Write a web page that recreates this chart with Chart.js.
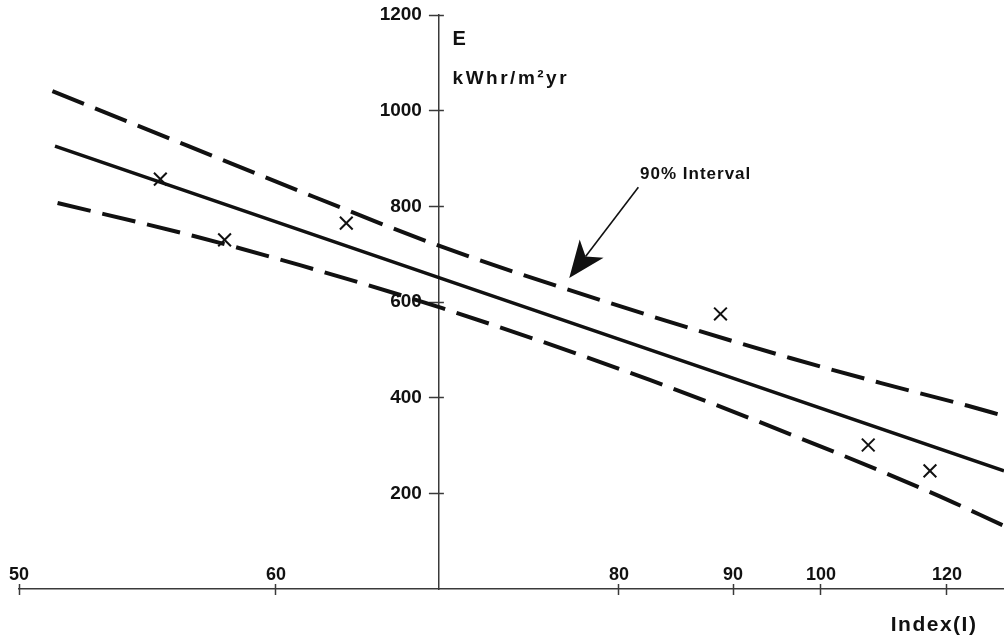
<!DOCTYPE html>
<html>
<head>
<meta charset="utf-8">
<script src="https://cdn.jsdelivr.net/npm/chart.js@4.4.1/dist/chart.umd.min.js"></script>
<style>
html,body{margin:0;padding:0;background:#fff;}
#wrap{width:1004px;height:643px;position:relative;}
canvas{display:block;}
</style>
</head>
<body>
<div id="wrap"><canvas id="c" width="1004" height="643"></canvas></div>
<script>
// ---- data ----
const xTickValues = [50, 60, 80, 90, 100, 120];
const yTickValues = [200, 400, 600, 800, 1000, 1200];

const observedIndex = [55.5, 58.0, 64.1, 88.9, 107.5, 117.3];
const observedE     = [857, 730, 765, 575, 301, 247];

const fitIndex = [51.4, 69.5, 129];
const fitE     = [926, 651, 247];

const upperIndex = [51.3, 56.5, 62.2, 69.7, 83.3, 96.5, 109.4, 123.3, 129];
const upperE     = [1041, 928, 820, 715, 567, 483, 431, 383, 362];

const lowerIndex = [51.5, 56.8, 61.4, 69.7, 82.7, 97.8, 117.6, 129];
const lowerE     = [807, 738, 677, 587, 437, 314, 201, 132];

const yAxisAtIndex = 69.5;

// ---- custom x scale: the reference axis is not evenly spaced ----
// piecewise-linear mapping between the labelled ticks (axis layout)
const AXIS_KNOT_VALUES = [50, 60, 80, 90, 100, 120, 129];
const AXIS_KNOT_FRACS  = [0, 0.2609, 0.6091, 0.7249, 0.8142, 0.9421, 1];

class PiecewiseScale extends Chart.LinearScale {
  static id = 'piecewise';
  static defaults = Chart.LinearScale.defaults;
  _dec(v) {
    const vs = AXIS_KNOT_VALUES, fs = AXIS_KNOT_FRACS;
    let i = 0;
    if (v >= vs[vs.length - 1]) i = vs.length - 2;
    else if (v > vs[0]) { while (v > vs[i + 1]) i++; }
    const t = (v - vs[i]) / (vs[i + 1] - vs[i]);
    return fs[i] + t * (fs[i + 1] - fs[i]);
  }
  getPixelForValue(value) {
    if (value === null || value === undefined || isNaN(value)) return NaN;
    return this.getPixelForDecimal(this._dec(value));
  }
  getValueForPixel(pixel) {
    const d = this.getDecimalForPixel(pixel);
    const vs = AXIS_KNOT_VALUES, fs = AXIS_KNOT_FRACS;
    let i = 0;
    if (d >= fs[fs.length - 1]) i = fs.length - 2;
    else if (d > fs[0]) { while (d > fs[i + 1]) i++; }
    const t = (d - fs[i]) / (fs[i + 1] - fs[i]);
    return vs[i] + t * (vs[i + 1] - vs[i]);
  }
  _computeGridLineItems(ca) {
    const items = super._computeGridLineItems(ca);
    const b = ca.bottom;
    items.forEach(it => { it.ty1 = b - 5; it.ty2 = b + 6; });
    return items;
  }
}

// y scale drawn through the middle of the plot: labels left of the axis, ticks crossing it
class CrossingYScale extends Chart.LinearScale {
  static id = 'crossingLinear';
  static defaults = Chart.LinearScale.defaults;
  _axisPixel() {
    return this.chart.scales.x.getPixelForValue(yAxisAtIndex);
  }
  _computeLabelItems(ca) {
    const items = super._computeLabelItems(ca);
    const ax = this._axisPixel();
    const shift = 10 + this.options.ticks.padding;
    items.forEach(it => { it.options.translation[0] = ax - shift; it.options.textAlign = 'right'; });
    return items;
  }
  _computeGridLineItems(ca) {
    const items = super._computeGridLineItems(ca);
    const ax = this._axisPixel();
    items.forEach(it => { it.tx1 = ax - 10; it.tx2 = ax + 5; });
    return items;
  }
}
Chart.register(PiecewiseScale, CrossingYScale);

const pts = (xs, ys) => xs.map((x, i) => ({x: x, y: ys[i]}));
const INK = '#111111';
const AXIS = '#3a3a3a';
const FONT = '"Liberation Sans", Arial, sans-serif';

const annotations = {
  id: 'annotations',
  afterDatasetsDraw(chart) {
    const {ctx} = chart;
    const xs = chart.scales.x, ys = chart.scales.y;
    ctx.save();
    ctx.fillStyle = INK;
    ctx.strokeStyle = INK;
    ctx.textBaseline = 'middle';
    ctx.textAlign = 'left';

    // y-axis title
    ctx.font = 'bold 20px ' + FONT;
    ctx.fillText('E', xs.getPixelForValue(70.3), ys.getPixelForValue(1148));
    try { ctx.letterSpacing = '2.5px'; } catch (e) {}
    ctx.font = 'bold 19px ' + FONT;
    ctx.fillText('kWhr/m²yr', xs.getPixelForValue(70.3), ys.getPixelForValue(1066));

    // 90% interval label
    try { ctx.letterSpacing = '1px'; } catch (e) {}
    ctx.font = 'bold 17px ' + FONT;
    ctx.fillText('90% Interval', xs.getPixelForValue(81.85), ys.getPixelForValue(866));

    // x-axis title
    try { ctx.letterSpacing = '1.5px'; } catch (e) {}
    ctx.font = 'bold 21px ' + FONT;
    ctx.textAlign = 'right';
    ctx.fillText('Index(I)', xs.getPixelForValue(124.8), ys.getPixelForValue(0) + 36);
    try { ctx.letterSpacing = '0px'; } catch (e) {}

    // arrow
    const fx = xs.getPixelForValue(81.7), fy = ys.getPixelForValue(840);
    const tx = xs.getPixelForValue(77.1), ty = ys.getPixelForValue(650);
    const dx = tx - fx, dy = ty - fy, len = Math.hypot(dx, dy);
    const ux = dx / len, uy = dy / len, px = -uy, py = ux;
    const hl = 37, hw = 15, notch = 27;
    ctx.lineWidth = 1.6;
    ctx.beginPath();
    ctx.moveTo(fx, fy);
    ctx.lineTo(tx - ux * notch, ty - uy * notch);
    ctx.stroke();
    ctx.beginPath();
    ctx.moveTo(tx, ty);
    ctx.lineTo(tx - ux * hl + px * hw, ty - uy * hl + py * hw);
    ctx.lineTo(tx - ux * notch, ty - uy * notch);
    ctx.lineTo(tx - ux * hl - px * hw, ty - uy * hl - py * hw);
    ctx.closePath();
    ctx.fill();
    ctx.restore();
  }
};

new Chart(document.getElementById('c'), {
  type: 'scatter',
  data: {
    datasets: [
      {
        label: 'Regression',
        data: pts(fitIndex, fitE),
        showLine: true,
        borderColor: INK,
        borderWidth: 3.5,
        pointRadius: 0,
        fill: false
      },
      {
        label: 'Upper 90%',
        data: pts(upperIndex, upperE),
        showLine: true,
        borderColor: INK,
        borderWidth: 4,
        borderDash: [34, 12],
        cubicInterpolationMode: 'monotone',
        pointRadius: 0,
        fill: false
      },
      {
        label: 'Lower 90%',
        data: pts(lowerIndex, lowerE),
        showLine: true,
        borderColor: INK,
        borderWidth: 4,
        borderDash: [34, 12],
        cubicInterpolationMode: 'monotone',
        pointRadius: 0,
        fill: false
      },
      {
        label: 'Observed',
        data: pts(observedIndex, observedE),
        showLine: false,
        pointStyle: 'crossRot',
        pointRadius: 9,
        pointBorderWidth: 2,
        pointBorderColor: INK,
        pointBackgroundColor: INK
      }
    ]
  },
  options: {
    responsive: false,
    animation: false,
    events: [],
    layout: {autoPadding: false, padding: {left: 19, top: 15, right: 0, bottom: 0}},
    plugins: {legend: {display: false}, tooltip: {enabled: false}},
    scales: {
      x: {
        type: 'piecewise',
        position: 'bottom',
        min: 50,
        max: 129,
        afterBuildTicks: s => { s.ticks = xTickValues.map(v => ({value: v})); },
        afterFit: s => {
          s.height = 54;
          s.paddingLeft = 0; s.paddingRight = 0; s.paddingTop = 0; s.paddingBottom = 0;
        },
        grid: {drawOnChartArea: false, drawTicks: true, tickLength: 7, tickWidth: 1.5, tickColor: AXIS},
        border: {display: true, color: AXIS, width: 1.5},
        ticks: {
          mirror: true,
          padding: 3,
          autoSkip: false,
          maxRotation: 0,
          color: INK,
          font: {family: FONT, weight: 'bold', size: 18},
          callback: v => String(v)
        }
      },
      y: {
        type: 'crossingLinear',
        position: {x: yAxisAtIndex},
        min: 0,
        max: 1200,
        afterBuildTicks: s => { s.ticks = yTickValues.map(v => ({value: v})); },
        afterFit: s => {
          s.paddingLeft = 0; s.paddingRight = 0; s.paddingTop = 0; s.paddingBottom = 0;
        },
        grid: {drawOnChartArea: false, drawTicks: true, tickLength: 10, tickWidth: 1.5, tickColor: AXIS},
        border: {display: true, color: AXIS, width: 1.5},
        ticks: {
          padding: 7,
          autoSkip: false,
          color: INK,
          font: {family: FONT, weight: 'bold', size: 19},
          callback: v => String(v)
        }
      }
    }
  },
  plugins: [annotations]
});
</script>
</body>
</html>
